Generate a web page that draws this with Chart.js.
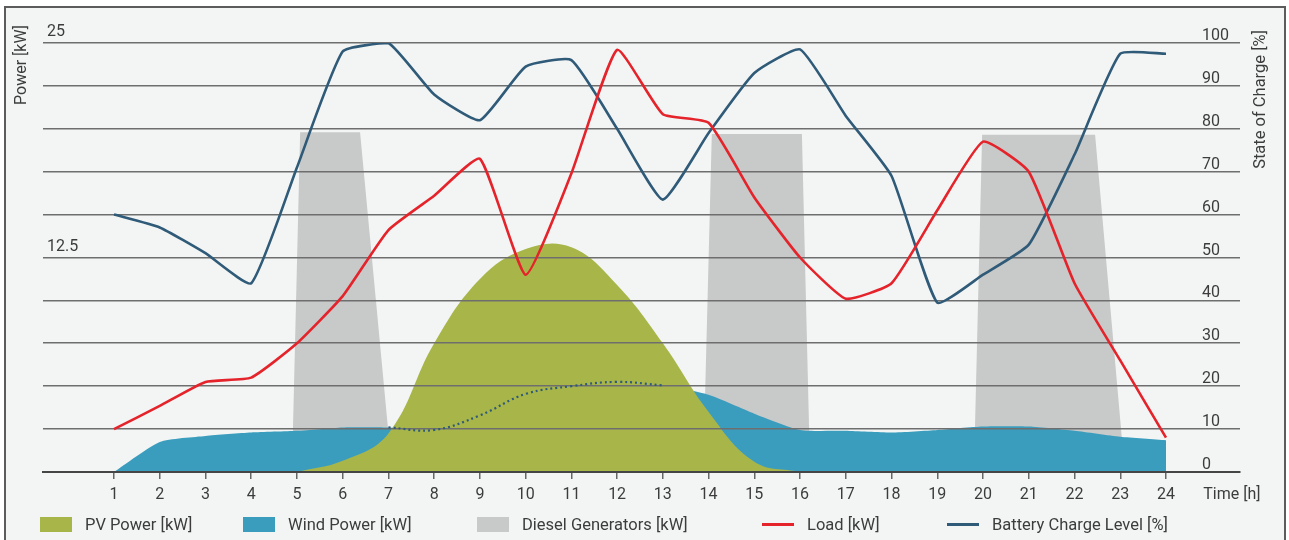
<!DOCTYPE html>
<html>
<head>
<meta charset="utf-8">
<script src="https://cdn.jsdelivr.net/npm/chart.js@4.4.1/dist/chart.umd.min.js"></script>
<style>
html,body{margin:0;padding:0;background:#fff;overflow:hidden;}
#wrap{position:absolute;left:0;top:0;width:1289px;height:540px;}
#frame{position:absolute;left:4px;top:6px;width:1282px;height:540px;border:2px solid #5c5c5c;border-bottom:none;background:#f3f5f5;box-sizing:border-box;}
#c{position:absolute;left:0;top:0;}
#legend{position:absolute;left:0;top:515px;width:1289px;height:20px;font-family:Roboto,"Noto Sans",sans-serif;font-size:16.5px;color:#3c3c3c;}
.li{position:absolute;top:0;display:flex;align-items:center;height:18px;white-space:nowrap;}
.sw{width:32px;margin-right:13px;}
</style>
</head>
<body>
<div id="wrap">
  <div id="frame"></div>
  <canvas id="c" width="1289" height="540"></canvas>
  <div id="legend"></div>
</div>
<script>
// ---------------- data ----------------
const hours = [1,2,3,4,5,6,7,8,9,10,11,12,13,14,15,16,17,18,19,20,21,22,23,24];
const pvKW    = [null,null,null,null,0,0.65,2.25,7.5,11.25,13,13.1,10.9,7.5,3.5,0.6,0,null,null,null,null,null,null,null,null];
const windKW  = [0,1.75,2.1,2.3,2.4,2.6,2.6,2.45,3.3,4.55,5.0,5.25,5.05,4.5,3.4,2.45,2.4,2.3,2.45,2.65,2.65,2.4,2.05,1.85];
const loadKW  = [2.5,3.85,5.25,5.5,7.5,10.25,14.1,16.1,18.25,11.5,17.4,24.6,20.85,20.35,16,12.5,10.1,11,15.25,19.25,17.5,11,6.5,2];
const batteryPct = [60,57,51,44,71,98,100,88,82,94.5,96,80,63.5,79,93,98.5,83,69,39.5,46,53,74,97.5,97.5];
const windHiddenFrom = 7, windHiddenTo = 13;   // wind under PV shown dotted
const dieselAHours = [4.89,5.07,6.38,7.08];   const dieselAKW = [0,19.8,19.8,0];
const dieselBHours = [13.88,14.07,16.04,16.22]; const dieselBKW = [0,19.7,19.7,0];
const dieselCHours = [19.80,19.98,22.45,23.10]; const dieselCKW = [0,19.65,19.65,0];
const powerTicks = [0,12.5,25];
const socTicks = [0,10,20,30,40,50,60,70,80,90,100];
const timeLabel = 'Time [h]';
const timeLabelPos = 25.44;
const legendLabels = ['PV Power [kW]','Wind Power [kW]','Diesel Generators [kW]','Load [kW]','Battery Charge Level [%]'];
const legendLeft = [40,243,477,762,947];

// ---------------- styles ----------------
const C = {pv:'#a8b649', wind:'#3b9dbe', diesel:'#c8c9c9', load:'#e5232b', batt:'#2f5a78', grid:'#6e6e6e', text:'#3c3c3c'};
const FONT = 'Roboto, "Noto Sans", sans-serif';
const pts = (xs, ys) => xs.map((x,i) => ({x:x, y:ys[i]}));

const datasets = [
  {label:legendLabels[3], data:pts(hours, loadKW), yAxisID:'y', borderColor:C.load, borderWidth:2.6, pointRadius:0, tension:0.15, fill:false, borderJoinStyle:'round'},
  {label:legendLabels[4], data:pts(hours, batteryPct), yAxisID:'y1', borderColor:C.batt, borderWidth:2.6, pointRadius:0, tension:0.15, fill:false, borderJoinStyle:'round'},
  {label:'wind hidden', data:pts(hours, windKW.map((v,i)=> (hours[i]>=windHiddenFrom && hours[i]<=windHiddenTo) ? v : null)), yAxisID:'y', borderColor:C.batt, borderWidth:2.2, borderDash:[2,3], pointRadius:0, tension:0.4, fill:false},
  {label:legendLabels[0], data:pts(hours, pvKW), yAxisID:'y', borderWidth:0, borderColor:'rgba(0,0,0,0)', backgroundColor:C.pv, pointRadius:0, tension:0.4, fill:'origin'},
  {label:legendLabels[1], data:pts(hours, windKW), yAxisID:'y', borderWidth:0, borderColor:'rgba(0,0,0,0)', backgroundColor:C.wind, pointRadius:0, tension:0.2, fill:'origin'},
  {label:legendLabels[2], data:pts(dieselAHours, dieselAKW), yAxisID:'y', borderWidth:0, borderColor:'rgba(0,0,0,0)', backgroundColor:C.diesel, pointRadius:0, tension:0, fill:'origin'},
  {label:legendLabels[2], data:pts(dieselBHours, dieselBKW), yAxisID:'y', borderWidth:0, borderColor:'rgba(0,0,0,0)', backgroundColor:C.diesel, pointRadius:0, tension:0, fill:'origin'},
  {label:legendLabels[2], data:pts(dieselCHours, dieselCKW), yAxisID:'y', borderWidth:0, borderColor:'rgba(0,0,0,0)', backgroundColor:C.diesel, pointRadius:0, tension:0, fill:'origin'}
];

const axisTitles = {
  id:'axisTitles',
  afterDraw(chart){
    const ctx = chart.ctx, a = chart.chartArea;
    ctx.save();
    ctx.font = '16px ' + FONT;
    ctx.fillStyle = C.text;
    ctx.textBaseline = 'middle';
    ctx.textAlign = 'right';
    ctx.translate(a.left - 21, a.top - 18);
    ctx.rotate(-Math.PI/2);
    ctx.fillText('Power [kW]', 0, 0);
    ctx.restore();
    ctx.save();
    ctx.font = '16.5px ' + FONT;
    ctx.fillStyle = C.text;
    ctx.textBaseline = 'middle';
    ctx.textAlign = 'right';
    ctx.translate(a.right + 21, a.top - 13);
    ctx.rotate(-Math.PI/2);
    ctx.fillText('State of Charge [%]', 0, 0);
    ctx.restore();
  }
};

new Chart(document.getElementById('c'), {
  type:'line',
  data:{datasets:datasets},
  options:{
    responsive:false,
    animation:false,
    layout:{padding:{top:43,left:0,right:0,bottom:0}},
    plugins:{
      legend:{display:false},
      tooltip:{enabled:false},
      filler:{drawTime:'beforeDraw'}
    },
    scales:{
      x:{
        type:'linear', position:'bottom', min:-0.552, max:25.618,
        afterBuildTicks:s => { s.ticks = hours.concat([timeLabelPos]).map(v => ({value:v})); },
        afterFit:s => { s.height = 68; },
        ticks:{autoSkip:false, maxRotation:0, padding:6, color:C.text, font:{family:FONT, size:16},
               callback:v => v === timeLabelPos ? timeLabel : String(v)},
        grid:{drawOnChartArea:false, drawTicks:true, tickLength:7, lineWidth:1.5,
              color:c => (c.tick && c.tick.value === timeLabelPos) ? 'rgba(0,0,0,0)' : '#666'},
        border:{display:true, color:'#454545', width:2}
      },
      y:{
        position:'left', min:0, max:25,
        afterBuildTicks:s => { s.ticks = powerTicks.map(v => ({value:v})); },
        afterFit:s => { s.width = 43; },
        ticks:{mirror:true, padding:4, labelOffset:-11, color:C.text, font:{family:FONT, size:16},
               callback:v => v === 0 ? '' : String(v)},
        grid:{display:false},
        border:{display:false}
      },
      y1:{
        position:'right', min:0, max:100,
        afterBuildTicks:s => { s.ticks = socTicks.map(v => ({value:v})); },
        afterFit:s => { s.width = 49; },
        ticks:{mirror:true, crossAlign:'far', padding:-11, labelOffset:-7, color:C.text, font:{family:FONT, size:16}},
        grid:{display:true, drawOnChartArea:true, drawTicks:false, color:C.grid, lineWidth:1.6},
        border:{display:false}
      }
    }
  },
  plugins:[axisTitles]
});

// ---------------- legend ----------------
const legendSwatches = [
  {color:C.pv, kind:'box'}, {color:C.wind, kind:'box'}, {color:C.diesel, kind:'box'},
  {color:C.load, kind:'line'}, {color:C.batt, kind:'line'}
];
const lg = document.getElementById('legend');
legendLabels.forEach((t,i) => {
  const it = document.createElement('div');
  it.className = 'li';
  it.style.left = legendLeft[i] + 'px';
  const sw = document.createElement('span');
  sw.className = 'sw';
  sw.style.background = legendSwatches[i].color;
  sw.style.height = legendSwatches[i].kind === 'box' ? '15px' : '3px';
  const tx = document.createElement('span');
  tx.textContent = t;
  it.appendChild(sw); it.appendChild(tx);
  lg.appendChild(it);
});
</script>
</body>
</html>
